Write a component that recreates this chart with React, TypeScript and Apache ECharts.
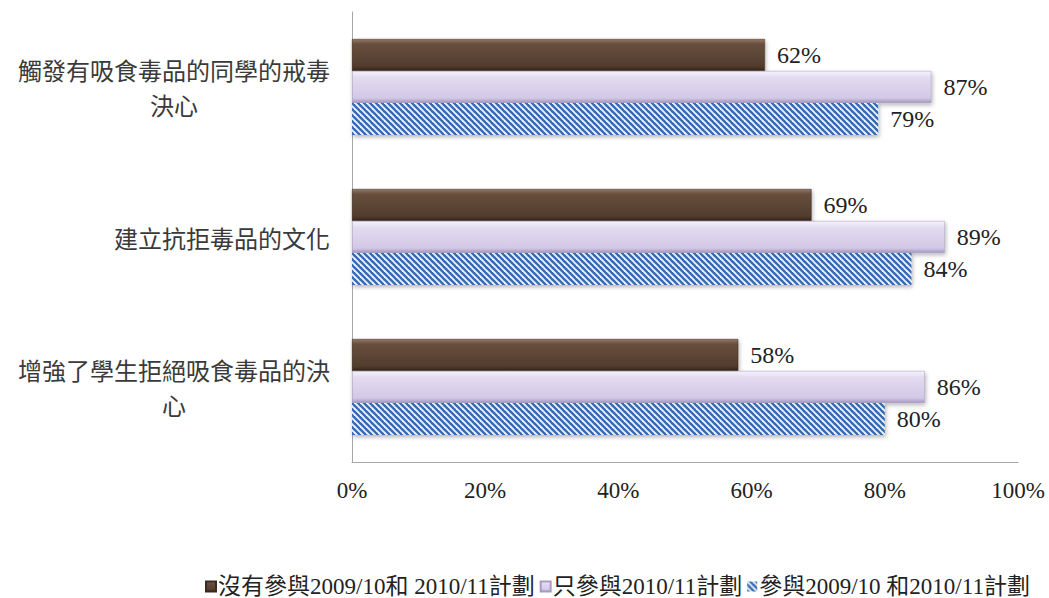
import React, { useEffect, useRef } from "react";
import * as echarts from "echarts";

const categories = [
  "觸發有吸食毒品的同學的戒毒決心",
  "建立抗拒毒品的文化",
  "增強了學生拒絕吸食毒品的決心",
];
const seriesNames = [
  "沒有參與2009/10和 2010/11計劃",
  "只參與2010/11計劃",
  "參與2009/10 和2010/11計劃",
];
const noProgram = [62, 69, 58];
const only1011 = [87, 89, 86];
const both = [79, 84, 80];
const axisMin = 0;
const axisMax = 100;
const axisInterval = 20;

const SERIF = "'Liberation Serif', 'Times New Roman', 'Noto Sans CJK TC', serif";
const CJK = "'Noto Sans CJK TC', 'Noto Sans', sans-serif";

function makeStripes(): HTMLCanvasElement {
  const c = document.createElement("canvas");
  const s = 6;
  c.width = s;
  c.height = s;
  const ctx = c.getContext("2d")!;
  ctx.fillStyle = "#336cb3";
  ctx.fillRect(0, 0, s, s);
  ctx.strokeStyle = "rgba(255,255,255,0.92)";
  ctx.lineWidth = 1.9;
  for (const k of [-s, 0, s]) {
    ctx.beginPath();
    ctx.moveTo(k - 1, -1);
    ctx.lineTo(k + s + 1, s + 1);
    ctx.stroke();
  }
  return c;
}

export default function App() {
  const ref = useRef<HTMLDivElement>(null);
  useEffect(() => {
    if (!ref.current) return;
    const chart = echarts.init(ref.current, null, { renderer: "svg" });
    const lineLen = 13;
    const labelStyle = {
      fontFamily: SERIF,
      fontSize: 24,
      color: "#222",
    };
    const shadow = {
      shadowColor: "rgba(0,0,0,0.3)",
      shadowBlur: 4,
      shadowOffsetX: 1,
      shadowOffsetY: 2,
    };
    const stripes = makeStripes();
    chart.setOption({
      animation: false,
      backgroundColor: "#fff",
      grid: { left: 352, right: 31, top: 12, bottom: 136, containLabel: false },
      legend: {
        left: 200,
        top: 570,
        icon: "rect",
        itemWidth: 10,
        itemHeight: 10,
        itemGap: 5,
        textStyle: { fontFamily: SERIF, fontSize: 23, color: "#222", padding: [0, 0, 0, -3] },
        data: seriesNames,
      },
      xAxis: {
        type: "value",
        min: axisMin,
        max: axisMax,
        interval: axisInterval,
        axisLine: { show: true, lineStyle: { color: "#a6a6a6", width: 1 } },
        axisTick: { show: false },
        splitLine: { show: false },
        axisLabel: {
          formatter: "{value}%",
          fontFamily: SERIF,
          fontSize: 23,
          color: "#222",
          margin: 17,
        },
      },
      yAxis: {
        type: "category",
        inverse: true,
        data: categories,
        axisLine: { show: true, lineStyle: { color: "#a6a6a6", width: 1 } },
        axisTick: { show: false },
        axisLabel: {
          margin: 22,
          align: "right",
          fontFamily: CJK,
          fontSize: 24,
          color: "#3a3a3a",
          lineHeight: 35,
          formatter: (v: string) => {
            if (v.length <= lineLen) return v;
            return "{w|" + v.slice(0, lineLen) + "}\n{w|" + v.slice(lineLen) + "}";
          },
          rich: {
            w: {
              width: 312,
              align: "center",
              fontFamily: CJK,
              fontSize: 24,
              color: "#3a3a3a",
              lineHeight: 35,
            },
          },
        },
      },
      series: [
        {
          name: seriesNames[0],
          type: "bar",
          data: noProgram,
          barWidth: 32,
          barGap: "0%",
          itemStyle: {
            color: new echarts.graphic.LinearGradient(0, 0, 0, 1, [
              { offset: 0, color: "#94796a" },
              { offset: 0.15, color: "#684f3d" },
              { offset: 0.85, color: "#523c2d" },
              { offset: 1, color: "#33241a" },
            ]),
            borderColor: "#3a2a1e",
            borderWidth: 0.5,
            ...shadow,
          },
          label: { show: true, position: "right", distance: 12, formatter: "{c}%", ...labelStyle },
        },
        {
          name: seriesNames[1],
          type: "bar",
          data: only1011,
          barWidth: 32,
          barGap: "0%",
          itemStyle: {
            color: new echarts.graphic.LinearGradient(0, 0, 0, 1, [
              { offset: 0, color: "#f6f3fb" },
              { offset: 0.2, color: "#e3dbf0" },
              { offset: 0.85, color: "#d3c8e6" },
              { offset: 1, color: "#a597c0" },
            ]),
            borderColor: "#a99cc4",
            borderWidth: 0.5,
            ...shadow,
          },
          label: { show: true, position: "right", distance: 12, formatter: "{c}%", ...labelStyle },
        },
        {
          name: seriesNames[2],
          type: "bar",
          data: both,
          barWidth: 32,
          barGap: "0%",
          itemStyle: {
            color: { image: stripes, repeat: "repeat" },
            ...shadow,
          },
          label: { show: true, position: "right", distance: 12, formatter: "{c}%", ...labelStyle },
        },
      ],
    });
    return () => chart.dispose();
  }, []);
  return (
    <div
      ref={ref}
      style={{ position: "fixed", left: 0, top: 0, width: 1049, height: 598 }}
    />
  );
}
